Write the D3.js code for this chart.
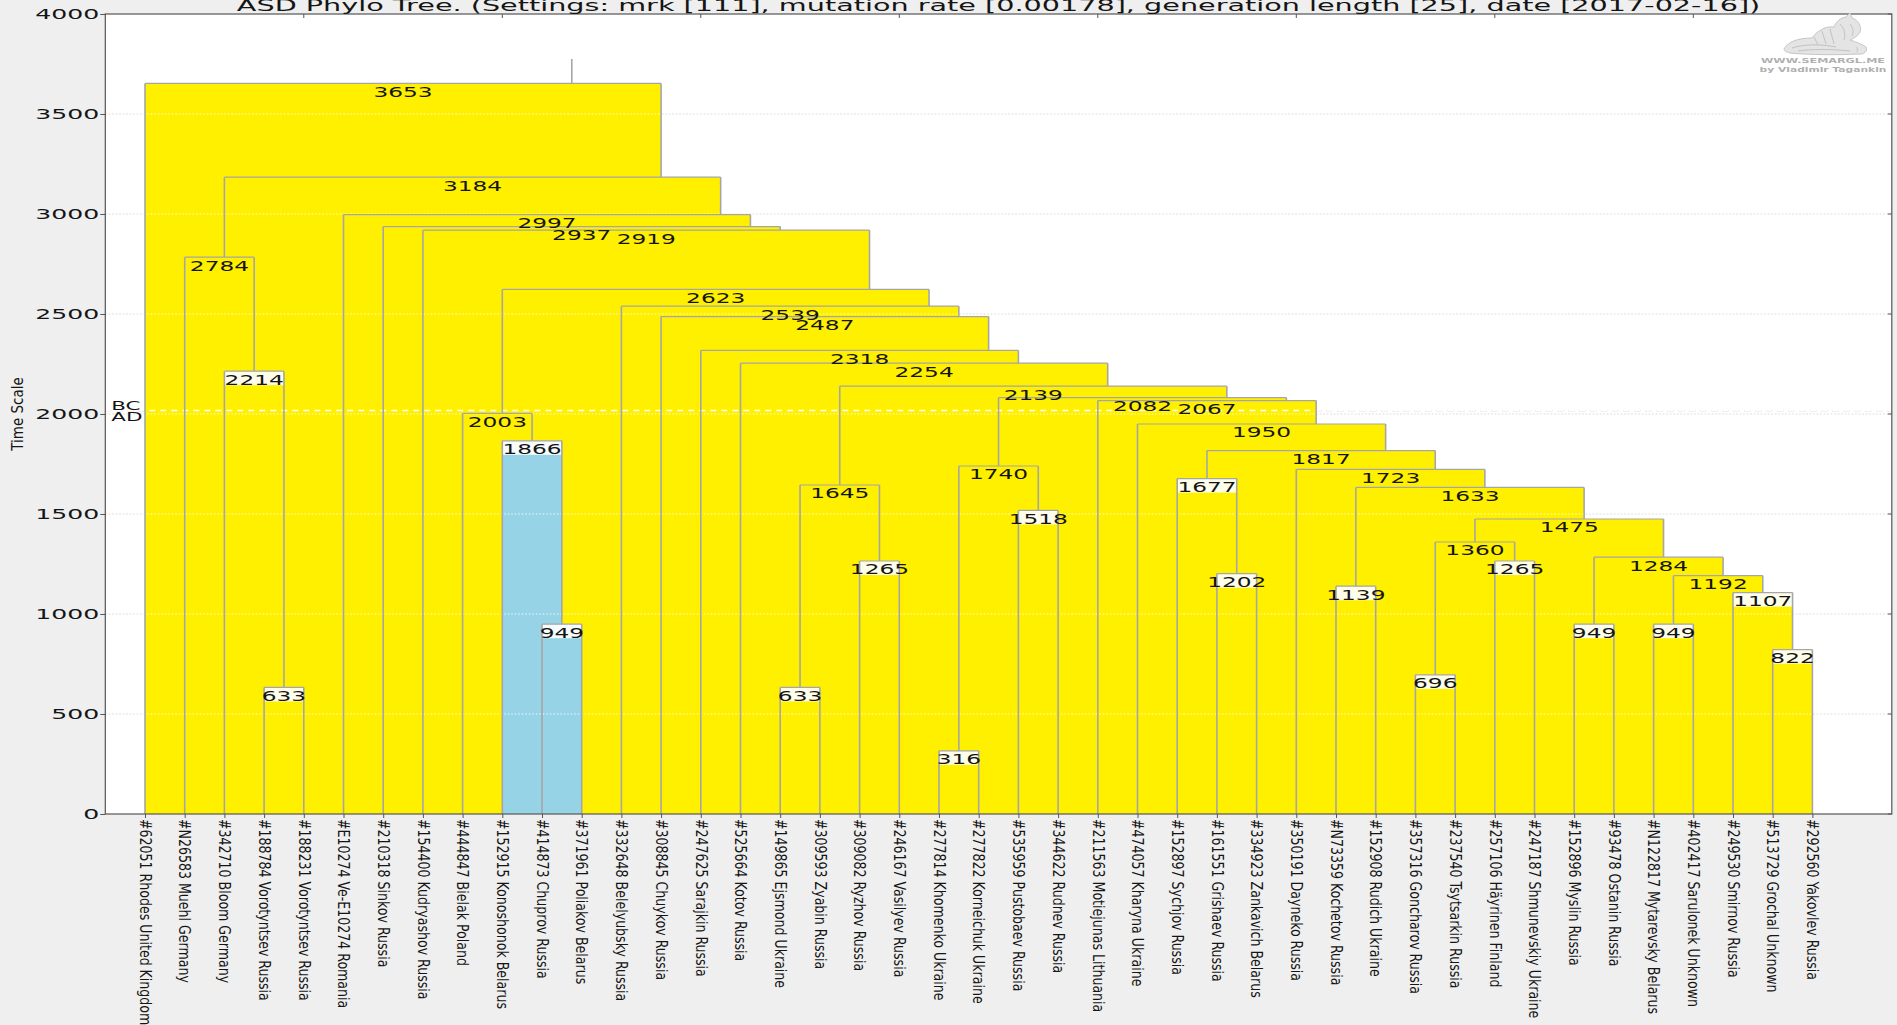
<!DOCTYPE html>
<html><head><meta charset="utf-8">
<script src="https://cdn.jsdelivr.net/npm/d3@7"></script>
<style>
html,body{margin:0;padding:0;background:#efefef;}
svg{display:block;}
text{font-family:"DejaVu Sans",sans-serif;}
.cond{font-family:"DejaVu Sans Condensed","DejaVu Sans",sans-serif;font-stretch:condensed;}
</style></head><body>
<svg id="c" width="1897" height="1025"></svg>
<script>
// ---------------- DATA ----------------
const titleText = "ASD Phylo Tree. (Settings: mrk [111], mutation rate [0.00178], generation length [25], date [2017-02-16])";
const yAxisTitle = "Time Scale";
const leafLabels = [
 "#62051 Rhodes United Kingdom","#N26583 Muehl Germany","#342710 Bloom Germany","#188784 Vorotyntsev Russia",
 "#188231 Vorotyntsev Russia","#E10274 Ve-E10274 Romania","#210318 Sinkov Russia","#154400 Kudryashov Russia",
 "#444847 Bielak Poland","#152915 Konoshonok Belarus","#414873 Chuprov Russia","#371961 Poliakov Belarus",
 "#332648 Belelyubsky Russia","#308845 Chuykov Russia","#247625 Sarajkin Russia","#525664 Kotov Russia",
 "#149865 Ejsmond Ukraine","#309593 Zyabin Russia","#309082 Ryzhov Russia","#246167 Vasilyev Russia",
 "#277814 Khomenko Ukraine","#277822 Korneichuk Ukraine","#535959 Pustobaev Russia","#344622 Rudnev Russia",
 "#211563 Motiejunas Lithuania","#474057 Kharyna Ukraine","#152897 Sychjov Russia","#161551 Grishaev Russia",
 "#334923 Zankavich Belarus","#350191 Dayneko Russia","#N73359 Kochetov Russia","#152908 Rudich Ukraine",
 "#357316 Goncharov Russia","#237540 Tsytsarkin Russia","#257106 Häyrinen Finland","#247187 Shmunevskiy Ukraine",
 "#152896 Myslin Russia","#93478 Ostanin Russia","#N122817 Mytarevsky Belarus","#402417 Sarulonek Unknown",
 "#249530 Smirnov Russia","#513729 Grochal Unknown","#292560 Yakovlev Russia"
];
// internal nodes: [id, left child, right child, age (years)]; numeric children = leaf number (1-based)
const mergeNodes = [
 ["n3653", 1, "n3184", 3653],
 ["n3184", "n2784", "n2997", 3184],
 ["n2784", 2, "n2214", 2784],
 ["n2214", 3, "n633a", 2214],
 ["n633a", 4, 5, 633],
 ["n2997", 6, "n2937", 2997],
 ["n2937", 7, "n2919", 2937],
 ["n2919", 8, "n2623", 2919],
 ["n2623", "n2003", "n2539", 2623],
 ["n2003", 9, "n1866", 2003],
 ["n1866", 10, "n949a", 1866],
 ["n949a", 11, 12, 949],
 ["n2539", 13, "n2487", 2539],
 ["n2487", 14, "n2318", 2487],
 ["n2318", 15, "n2254", 2318],
 ["n2254", 16, "n2139", 2254],
 ["n2139", "n1645", "n2082", 2139],
 ["n1645", "n633b", "n1265a", 1645],
 ["n633b", 17, 18, 633],
 ["n1265a", 19, 20, 1265],
 ["n2082", "n1740", "n2067", 2082],
 ["n1740", "n316", "n1518", 1740],
 ["n316", 21, 22, 316],
 ["n1518", 23, 24, 1518],
 ["n2067", 25, "n1950", 2067],
 ["n1950", 26, "n1817", 1950],
 ["n1817", "n1677", "n1723", 1817],
 ["n1677", 27, "n1202", 1677],
 ["n1202", 28, 29, 1202],
 ["n1723", 30, "n1633", 1723],
 ["n1633", "n1139", "n1475", 1633],
 ["n1139", 31, 32, 1139],
 ["n1475", "n1360", "n1284", 1475],
 ["n1360", "n696", "n1265b", 1360],
 ["n696", 33, 34, 696],
 ["n1265b", 35, 36, 1265],
 ["n1284", "n949b", "n1192", 1284],
 ["n949b", 37, 38, 949],
 ["n1192", "n949c", "n1107", 1192],
 ["n949c", 39, 40, 949],
 ["n1107", 41, "n822", 1107],
 ["n822", 42, 43, 822]
];
const rootId = "n3653";
const rootStemTop = 3775;
const highlightedClade = "n1866";
const yTicks = [0, 500, 1000, 1500, 2000, 2500, 3000, 3500, 4000];
const eraBoundary = 2017;   // years before 2017 = BC/AD
const xDomain = [0, 45];
const yDomain = [0, 4000];

// ---------------- LAYOUT ----------------
const plot = {left: 105.3, right: 1891.8, top: 14, bottom: 814};
const S = 1.65;       // horizontal text stretch of the reference
const S_NUM = 1.75;   // node value labels
const S_TICK = 1.85;  // tick labels / title
const YELLOW = "#fff000", BLUE = "#96d3e6", LINE = "#a6a6a6";

const x = d3.scaleLinear().domain(xDomain).range([plot.left, plot.right]);
const y = d3.scaleLinear().domain(yDomain).range([plot.bottom, plot.top]);

const byId = new Map(mergeNodes.map(r => [r[0], r]));
function build(ref) {
  if (typeof ref === "number") return {leaf: true, index: ref, label: leafLabels[ref - 1], age: 0};
  const r = byId.get(ref);
  return {id: r[0], age: r[3], children: [build(r[1]), build(r[2])]};
}
const root = d3.hierarchy(build(rootId));
root.eachAfter(d => {
  if (!d.children) { d.pos = d.data.index; d.centroid = d.data.index; d.n = 1; }
  else {
    const [a, b] = d.children;
    d.n = a.n + b.n;
    d.centroid = (a.centroid * a.n + b.centroid * b.n) / d.n;
    d.pos = (a.centroid + b.centroid) / 2;
  }
});
const internals = root.descendants().filter(d => d.children);
const isHi = d => d.ancestors().some(a => a.data.id === highlightedClade);

const svg = d3.select("#c");

// plot background
svg.append("rect").attr("x", x(xDomain[0])).attr("y", y(yDomain[1]))
  .attr("width", x(xDomain[1]) - x(xDomain[0])).attr("height", y(yDomain[0]) - y(yDomain[1]))
  .attr("fill", "#fff");

const gridVals = yTicks.filter(v => v > yDomain[0] && v < yDomain[1]);
// grid beneath fills
svg.append("g").selectAll("line").data(gridVals).join("line")
  .attr("x1", x(xDomain[0])).attr("x2", x(xDomain[1]))
  .attr("y1", d => y(d)).attr("y2", d => y(d))
  .attr("stroke", "#c4c4c4").attr("stroke-width", 1).attr("stroke-dasharray", "1.5,2");
svg.append("line").attr("x1", x(xDomain[0])).attr("x2", x(xDomain[1]))
  .attr("y1", y(eraBoundary)).attr("y2", y(eraBoundary))
  .attr("stroke", "#df9aa6").attr("stroke-width", 1.2).attr("stroke-dasharray", "6,5");

// fills (parents first)
svg.append("g").selectAll("rect").data(internals).join("rect")
  .attr("x", d => x(d.children[0].pos))
  .attr("width", d => x(d.children[1].pos) - x(d.children[0].pos))
  .attr("y", d => y(d.data.age))
  .attr("height", d => y(0) - y(d.data.age))
  .attr("fill", d => isHi(d) ? BLUE : YELLOW);

// white header strips on narrow clades
const narrow = internals.filter(d => d.children[1].pos - d.children[0].pos <= 1.5);
svg.append("g").selectAll("rect").data(narrow).join("rect")
  .attr("x", d => x(d.children[0].pos))
  .attr("width", d => x(d.children[1].pos) - x(d.children[0].pos))
  .attr("y", d => y(d.data.age))
  .attr("height", 14)
  .attr("fill", "#fff").attr("opacity", 0.92);

// grid above fills (white over colour)
svg.append("g").selectAll("line").data(gridVals).join("line")
  .attr("x1", x(xDomain[0])).attr("x2", x(xDomain[1]))
  .attr("y1", d => y(d)).attr("y2", d => y(d))
  .attr("stroke", "#fff").attr("stroke-opacity", 0.85).attr("stroke-width", 1.2).attr("stroke-dasharray", "1.5,2");
svg.append("line").attr("x1", x(xDomain[0])).attr("x2", x(xDomain[1]))
  .attr("y1", y(eraBoundary)).attr("y2", y(eraBoundary))
  .attr("stroke", "#fff").attr("stroke-width", 1.5).attr("stroke-dasharray", "6,5");

// tree lines
const lines = svg.append("g").attr("stroke", LINE).attr("fill", "none");
lines.selectAll("line.v").data(root.descendants().filter(d => d.parent)).join("line")
  .attr("class", "v")
  .attr("x1", d => x(d.pos)).attr("x2", d => x(d.pos))
  .attr("y1", d => y(d.data.age)).attr("y2", d => y(d.parent.data.age))
  .attr("stroke-width", 1.6);
lines.selectAll("line.h").data(internals).join("line")
  .attr("class", "h")
  .attr("x1", d => x(d.children[0].pos)).attr("x2", d => x(d.children[1].pos))
  .attr("y1", d => y(d.data.age)).attr("y2", d => y(d.data.age))
  .attr("stroke-width", 1.2);
lines.append("line")
  .attr("x1", x(root.pos)).attr("x2", x(root.pos))
  .attr("y1", y(root.data.age)).attr("y2", y(rootStemTop))
  .attr("stroke-width", 1.6);

// node labels
svg.append("g").selectAll("text").data(internals).join("text")
  .attr("transform", d => `translate(${(x(d.children[0].pos) + x(d.children[1].pos)) / 2},${y(d.data.age) + 13.3}) scale(${S_NUM},1)`)
  .attr("text-anchor", "middle").attr("font-size", 13.3).attr("fill", "#151515")
  .text(d => d.data.age);

// frame
svg.append("rect").attr("x", x(xDomain[0])).attr("y", y(yDomain[1]))
  .attr("width", x(xDomain[1]) - x(xDomain[0])).attr("height", y(yDomain[0]) - y(yDomain[1]))
  .attr("fill", "none").attr("stroke", "#555").attr("stroke-width", 1.2);

// y axis (left)
const yAxis = d3.axisLeft(y).tickValues(yTicks).tickSize(5).tickFormat(d3.format("d"));
const gy = svg.append("g").attr("transform", `translate(${x(xDomain[0])},0)`).call(yAxis);
gy.select(".domain").remove();
gy.selectAll(".tick line").attr("stroke", "#555");
gy.selectAll(".tick text").attr("x", 0).attr("dy", null)
  .attr("transform", `translate(-6,0) scale(${S_TICK},1)`)
  .attr("dominant-baseline", "central")
  .attr("font-size", 13.6).attr("font-family", "DejaVu Sans").attr("fill", "#151515");
// right inner ticks
svg.append("g").selectAll("line").data(yTicks).join("line")
  .attr("x1", x(xDomain[1]) - 4).attr("x2", x(xDomain[1]))
  .attr("y1", d => y(d)).attr("y2", d => y(d)).attr("stroke", "#555");

// x axis (bottom) with leaf labels
const leafIdx = d3.range(1, leafLabels.length + 1);
const xAxis = d3.axisBottom(x).tickValues(leafIdx).tickSize(4).tickFormat(i => leafLabels[i - 1]);
const gx = svg.append("g").attr("transform", `translate(0,${y(0)})`).call(xAxis);
gx.select(".domain").remove();
gx.selectAll(".tick line").attr("stroke", "#555");
gx.selectAll(".tick text")
  .attr("class", "cond")
  .attr("x", 0).attr("y", 0).attr("dy", null)
  .attr("transform", "translate(0,5) scale(1.1,1) rotate(90)")
  .attr("text-anchor", "start").attr("dominant-baseline", "central")
  .attr("font-size", 14).attr("fill", "#151515");
// top inner ticks
svg.append("g").selectAll("line").data(d3.range(5, 45, 5)).join("line")
  .attr("x1", d => x(d)).attr("x2", d => x(d))
  .attr("y1", y(yDomain[1])).attr("y2", y(yDomain[1]) + 4).attr("stroke", "#555");

// BC / AD
svg.append("text").attr("transform", `translate(${x(xDomain[0]) + 6},${y(eraBoundary) - 1}) scale(${S},1)`)
  .attr("font-size", 13).attr("fill", "#151515").text("BC");
svg.append("text").attr("transform", `translate(${x(xDomain[0]) + 6},${y(eraBoundary) + 10}) scale(${S},1)`)
  .attr("font-size", 13).attr("fill", "#151515").text("AD");

// y axis title
svg.append("text").attr("class", "cond")
  .attr("transform", `translate(17.5,${y(2000)}) scale(1.1,1) rotate(-90)`)
  .attr("text-anchor", "middle").attr("dominant-baseline", "central")
  .attr("font-size", 15).attr("fill", "#151515").text(yAxisTitle);

// title
svg.append("text").attr("transform", `translate(${(x(xDomain[0]) + x(xDomain[1])) / 2},11) scale(${S_TICK},1)`)
  .attr("text-anchor", "middle").attr("font-size", 15.5).attr("fill", "#151515").text(titleText);

// watermark
const wm = svg.append("g");
wm.append("path")
  .attr("d", "M1784,49 C1788,41 1800,38 1812,38 C1818,30 1826,26 1834,27 C1836,22 1840,18 1846,17 L1850,13 L1852,18 C1858,20 1862,26 1860,32 C1858,36 1854,38 1850,40 C1856,42 1862,44 1866,47 C1868,51 1864,55 1858,54 C1840,55 1810,55 1790,53 C1786,52 1784,51 1784,49 Z")
  .attr("fill", "#e4e4e4").attr("stroke", "#c6c6c6").attr("stroke-width", 1);
wm.append("path")
  .attr("d", "M1792,48 C1805,44 1820,44 1836,47 M1798,51 C1812,49 1830,49 1850,51 M1814,37 L1818,45 M1822,31 L1826,44 M1830,29 L1834,44 M1840,24 C1844,28 1846,34 1844,40 M1850,24 C1853,28 1854,32 1852,36 M1856,47 C1858,49 1858,51 1856,52")
  .attr("fill", "none").attr("stroke", "#c2c2c2").attr("stroke-width", 1);
svg.append("text").attr("transform", `translate(1823,63) scale(${S},1)`).attr("text-anchor", "middle")
  .attr("font-size", 6.8).attr("font-weight", "bold").attr("fill", "#b0b0b0").text("WWW.SEMARGL.ME");
svg.append("text").attr("transform", `translate(1823,72) scale(${S},1)`).attr("text-anchor", "middle")
  .attr("font-size", 6.5).attr("font-weight", "bold").attr("fill", "#b0b0b0").text("by Vladimir Tagankin");
</script>
</body></html>
